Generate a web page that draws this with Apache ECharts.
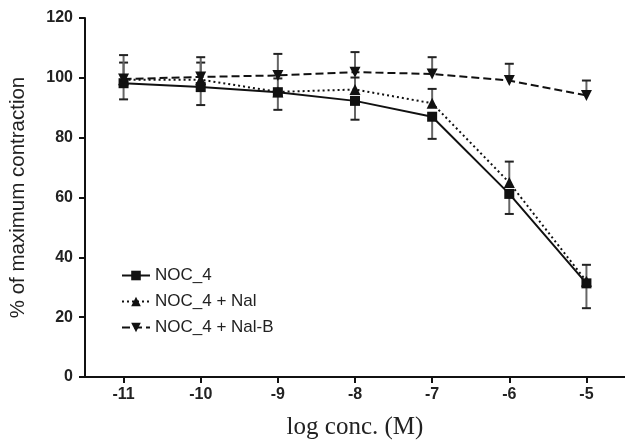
<!DOCTYPE html>
<html>
<head>
	<meta charset="utf-8" />
	<title>NOC_4 contraction</title>
	<style type="text/css">
		body { margin: 0; background: #fff; }
		#main { width: 625px; height: 440px; }
	</style>
	<script src="https://cdn.jsdelivr.net/npm/echarts@6/dist/echarts.min.js"></script>
</head>
<body>
	<div id="main"></div>
	<script type="text/javascript">
		// log concentration (M)
		const logConc = [-11, -10, -9, -8, -7, -6, -5];

		const noc4 = [98.2, 96.9, 95.2, 92.3, 87.0, 61.2, 31.3];
		const noc4Err = [5.4, 6.0, 5.9, 6.3, 7.4, 6.7, 8.3];

		const noc4Nal = [99.4, 99.4, 95.3, 96.1, 91.5, 65.0, 32.0];
		const noc4NalErr = [5.7, 5.7, 4.5, 4.0, 4.8, 7.0, 5.5];

		const noc4NalB = [99.6, 100.3, 100.8, 101.9, 101.3, 99.1, 94.1];
		const noc4NalBErr = [8.0, 6.6, 7.2, 6.7, 5.6, 5.6, 5.0];

		const names = ['NOC_4', 'NOC_4 + Nal', 'NOC_4 + Nal-B'];

		const pts = (ys) => logConc.map((x, i) => [x, ys[i]]);
		const errPts = (ys, es) => logConc.map((x, i) => [x, ys[i], es[i]]);

		// one-sided error bar: dir = -1 below the point, +1 above
		const errBar = (dir) => (params, api) => {
			const x = api.value(0), y = api.value(1), e = api.value(2);
			const p0 = api.coord([x, y]);
			const p1 = api.coord([x, y + dir * e]);
			return {
				type: 'group',
				children: [
					{ type: 'line', shape: { x1: p0[0], y1: p0[1], x2: p1[0], y2: p1[1] },
					  style: { stroke: '#666', lineWidth: 2 } },
					{ type: 'line', shape: { x1: p1[0] - 4.5, y1: p1[1], x2: p1[0] + 4.5, y2: p1[1] },
					  style: { stroke: '#222', lineWidth: 2 } }
				]
			};
		};

		const lineSeries = (name, ys, symbol, size, rotate, ltype) => ({
			name: name,
			type: 'line',
			data: pts(ys),
			symbol: symbol,
			symbolSize: size,
			symbolRotate: rotate,
			showAllSymbol: true,
			itemStyle: { color: '#111' },
			lineStyle: { color: '#111', width: 2, type: ltype },
			z: 3
		});

		const errSeries = (ys, es, dir) => ({
			type: 'custom',
			data: errPts(ys, es),
			renderItem: errBar(dir),
			encode: { x: 0, y: 1 },
			silent: true,
			z: 2
		});

		const options = {
			animation: false,
			grid: { left: 85, right: 0, top: 18, bottom: 63, outerBoundsMode: 'none', containLabel: false },
			legend: {
				data: names,
				orient: 'vertical',
				left: 116,
				top: 262,
				itemWidth: 28,
				itemHeight: 12,
				itemGap: 9,
				textStyle: { fontFamily: 'Liberation Sans, Arial, sans-serif', fontSize: 17, color: '#222' }
			},
			xAxis: {
				type: 'value',
				min: -11.5,
				max: -4.5,
				name: 'log conc. (M)',
				nameLocation: 'middle',
				nameGap: 38,
				nameTextStyle: { fontFamily: 'Liberation Serif, Times New Roman, serif', fontSize: 25, color: '#222' },
				splitLine: { show: false },
				axisLine: { onZero: false, lineStyle: { color: '#111', width: 2 } },
				axisTick: { length: 6, customValues: logConc, lineStyle: { color: '#111', width: 2 } },
				axisLabel: {
					customValues: logConc,
					fontFamily: 'Liberation Sans, Arial, sans-serif', fontSize: 16, fontWeight: 'bold', color: '#222', margin: 10
				}
			},
			yAxis: {
				type: 'value',
				min: 0,
				max: 120,
				interval: 20,
				name: '% of maximum contraction',
				nameLocation: 'middle',
				nameGap: 56,
				nameTextStyle: { fontFamily: 'Liberation Sans, Arial, sans-serif', fontSize: 20.5, color: '#222' },
				splitLine: { show: false },
				axisLine: { show: true, lineStyle: { color: '#111', width: 2 } },
				axisTick: { show: true, length: 6, lineStyle: { color: '#111', width: 2 } },
				axisLabel: { fontFamily: 'Liberation Sans, Arial, sans-serif', fontSize: 16, fontWeight: 'bold', color: '#222', margin: 12 }
			},
			series: [
				errSeries(noc4, noc4Err, -1),
				errSeries(noc4Nal, noc4NalErr, 1),
				errSeries(noc4NalB, noc4NalBErr, 1),
				lineSeries(names[0], noc4, 'rect', 10, 0, 'solid'),
				lineSeries(names[1], noc4Nal, 'triangle', 11, 0, [2, 3]),
				lineSeries(names[2], noc4NalB, 'triangle', 11, 180, [8, 4])
			]
		};

		const myChart = echarts.init(document.getElementById('main'));
		myChart.setOption(options);
	</script>
</body>
</html>
